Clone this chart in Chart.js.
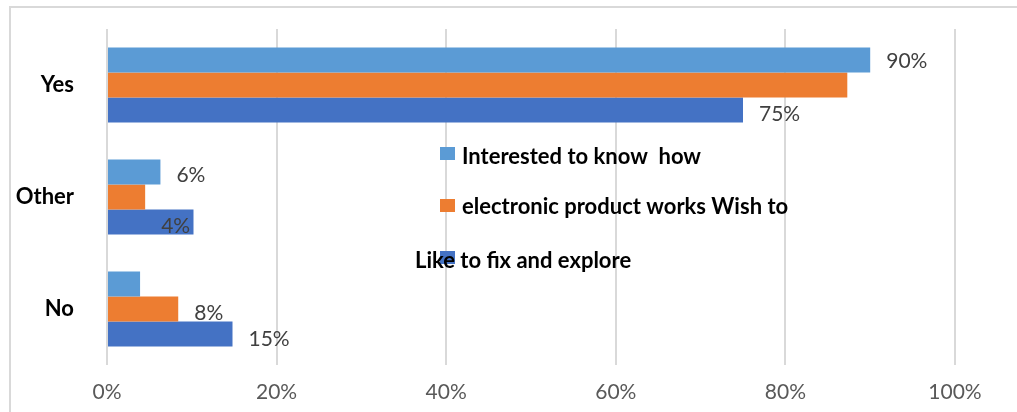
<!DOCTYPE html>
<html>
<head>
<meta charset="utf-8">
<script src="https://cdn.jsdelivr.net/npm/chart.js@4"></script>
<style>
  body { margin: 0; background: #fff; }
  #wrap { width: 1017px; height: 412px; }
</style>
</head>
<body>
<div id="wrap"><canvas id="canvas" width="1017" height="412"></canvas></div>
<script>
// categories top to bottom
const categories = ['Yes', 'Other', 'No'];

// series values (percent)
const interested = [90, 6.3, 3.9];
const electronic = [87.3, 4.5, 8.4];
const likeFix = [75, 10.2, 14.8];

// data labels as printed on the chart ('' = none)
const interestedLabels = ['90%', '6%', ''];
const electronicLabels = ['', '4%', '8%'];
const likeFixLabels = ['75%', '', '15%'];

const seriesNames = ['Interested to know  how', 'electronic product works Wish to', 'Like to fix and explore'];
const xTicks = [0, 20, 40, 60, 80, 100];

const colors = ['#5B9BD5', '#ED7D31', '#4472C4'];
const allLabels = [interestedLabels, electronicLabels, likeFixLabels];
// small vertical nudges for labels, per series/category
const labelDy = [[0, 2, 0], [0, 28, 3], [3, 0, 4]];

const frame = {
    id: 'frame',
    beforeDraw(chart) {
        const c = chart.ctx;
        c.save();
        c.strokeStyle = '#d9d9d9';
        c.lineWidth = 2;
        c.strokeRect(10, 7, chart.width + 20, chart.height + 20);
        c.restore();
    }
};

const barLabels = {
    id: 'barLabels',
    afterDatasetsDraw(chart) {
        const c = chart.ctx;
        c.save();
        c.font = '21px Lato';
        c.fillStyle = '#404040';
        c.textBaseline = 'middle';
        c.textAlign = 'left';
        chart.data.datasets.forEach((ds, i) => {
            const meta = chart.getDatasetMeta(i);
            meta.data.forEach((bar, j) => {
                const txt = allLabels[i][j];
                if (!txt) return;
                c.fillText(txt, bar.x + 16, bar.y + 1 + labelDy[i][j]);
            });
        });
        c.restore();
    }
};

// legend sits inside the plot, as in the original
const oddLegend = {
    id: 'oddLegend',
    afterDraw(chart) {
        const c = chart.ctx;
        const spots = [
            {sx: 440, sy: 147, tx: 462, ty: 157},
            {sx: 440, sy: 199, tx: 462, ty: 207},
            {sx: 440, sy: 251, tx: 415, ty: 261}
        ];
        c.save();
        c.font = 'bold 22px Lato';
        c.textBaseline = 'middle';
        c.textAlign = 'left';
        spots.forEach((s, i) => {
            c.fillStyle = colors[i];
            c.fillRect(s.sx, s.sy, 15, 13);
            c.fillStyle = '#000';
            c.fillText(seriesNames[i], s.tx, s.ty);
        });
        c.restore();
    }
};

const ctx = document.getElementById('canvas').getContext('2d');
const chart = new Chart(ctx, {
    type: 'bar',
    data: {
        labels: categories,
        datasets: [
            {label: seriesNames[0], data: interested, backgroundColor: colors[0]},
            {label: seriesNames[1], data: electronic, backgroundColor: colors[1]},
            {label: seriesNames[2], data: likeFix, backgroundColor: colors[2]}
        ]
    },
    options: {
        indexAxis: 'y',
        responsive: false,
        animation: false,
        layout: {padding: {left: 0, top: 29, right: 62, bottom: 0}},
        datasets: {bar: {categoryPercentage: 0.67, barPercentage: 1.0}},
        plugins: {legend: {display: false}, tooltip: {enabled: false}},
        scales: {
            x: {
                min: 0,
                max: 100,
                afterBuildTicks(scale) {
                    scale.ticks = xTicks.map(v => ({value: v}));
                },
                afterFit(scale) { scale.height = 47; },
                grid: {color: '#d9d9d9', lineWidth: 2, drawTicks: false},
                border: {display: false},
                ticks: {
                    padding: 15,
                    color: '#595959',
                    font: {family: 'Lato', size: 21},
                    callback: v => v + '%'
                }
            },
            y: {
                afterFit(scale) {
                    scale.width = 107;
                    scale.paddingTop = 0;
                    scale.paddingBottom = 0;
                },
                grid: {display: false, drawTicks: false},
                border: {display: false},
                ticks: {
                    padding: 33,
                    color: '#000',
                    font: {family: 'Lato', size: 22, weight: 'bold'}
                }
            }
        }
    },
    plugins: [frame, barLabels, oddLegend]
});
</script>
</body>
</html>
